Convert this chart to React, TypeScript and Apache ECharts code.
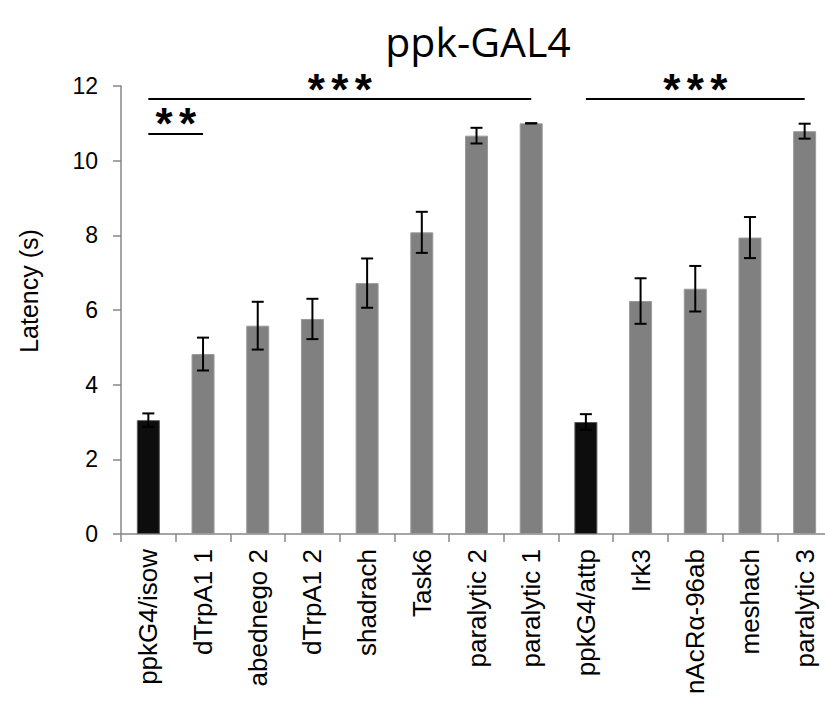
import { useEffect, useRef } from 'react';
import * as echarts from 'echarts';

// Genotypes along the x axis
const categories = [
  'ppkG4/isow',
  'dTrpA1 1',
  'abednego 2',
  'dTrpA1 2',
  'shadrach',
  'Task6',
  'paralytic 2',
  'paralytic 1',
  'ppkG4/attp',
  'Irk3',
  'nAcRα-96ab',
  'meshach',
  'paralytic 3',
];

// Mean latency (s) and standard error for each genotype
const latency = [3.05, 4.82, 5.58, 5.76, 6.72, 8.08, 10.67, 11.0, 3.0, 6.24, 6.57, 7.94, 10.79];
const sem = [0.18, 0.44, 0.64, 0.54, 0.66, 0.55, 0.21, 0.0, 0.21, 0.61, 0.61, 0.55, 0.2];

// Control genotypes drawn in black
const controls = ['ppkG4/isow', 'ppkG4/attp'];

// Y axis range
const yMin = 0;
const yMax = 12;
const yStep = 2;

// Significance brackets: first category, last category, height (s), stars
const bracketFrom = ['ppkG4/isow', 'ppkG4/attp', 'ppkG4/isow'];
const bracketTo = ['paralytic 1', 'paralytic 3', 'dTrpA1 1'];
const bracketLevel = [11.65, 11.65, 10.73];
const bracketStars = ['***', '***', '**'];

const AXIS_GREY = '#878787';
const FONT = '"Liberation Sans", Arial, sans-serif';

export default function App() {
  const ref = useRef<HTMLDivElement>(null);

  useEffect(() => {
    if (!ref.current) return;
    const chart = echarts.init(ref.current, undefined, { renderer: 'svg' });

    const option: any = {
      animation: false,
      backgroundColor: '#fff',
      grid: {
        left: 121,
        top: 86,
        width: 711,
        height: 448,
        containLabel: false,
        outerBoundsMode: 'none',
      },
      graphic: [
        {
          type: 'text',
          x: 478,
          y: 41,
          style: {
            text: 'ppk-GAL4',
            fontSize: 41,
            fontFamily: '"Open Sans", sans-serif',
            fill: '#000',
            textAlign: 'center',
            textVerticalAlign: 'middle',
            align: 'center',
            verticalAlign: 'middle',
          },
        },
        {
          type: 'text',
          x: 29,
          y: 291,
          rotation: Math.PI / 2,
          style: {
            text: 'Latency (s)',
            fontSize: 25,
            fontFamily: FONT,
            fill: '#000',
            textAlign: 'center',
            textVerticalAlign: 'middle',
            align: 'center',
            verticalAlign: 'middle',
          },
        },
      ],
      xAxis: {
        type: 'category',
        data: categories,
        boundaryGap: true,
        axisLine: { show: true, lineStyle: { color: AXIS_GREY, width: 1.5 } },
        axisTick: { show: true, length: 8, lineStyle: { color: AXIS_GREY, width: 1.5 } },
        axisLabel: {
          interval: 0,
          rotate: 90,
          margin: 15,
          color: '#000',
          fontSize: 26,
          fontFamily: FONT,
        },
      },
      yAxis: {
        type: 'value',
        min: yMin,
        max: yMax,
        interval: yStep,
        splitLine: { show: false },
        axisLine: { show: true, lineStyle: { color: AXIS_GREY, width: 1.5 } },
        axisTick: { show: true, length: 8, lineStyle: { color: AXIS_GREY, width: 1.5 } },
        axisLabel: { margin: 23, color: '#000', fontSize: 23, fontFamily: FONT },
      },
      series: [
        {
          type: 'bar',
          barWidth: 23,
          data: latency.map((v, i) => {
            const isControl = controls.includes(categories[i]);
            return {
              value: v,
              itemStyle: {
                color: isControl ? '#0d0d0d' : '#808080',
                borderColor: isControl ? '#5a5a5a' : '#9a9a9a',
                borderWidth: 1,
              },
            };
          }),
          markLine: {
            silent: true,
            symbol: ['none', 'none'],
            lineStyle: { color: '#000', width: 2.2, type: 'solid' },
            label: {
              show: true,
              position: 'middle',
              distance: -12,
              color: '#000',
              rich: {
                s: {
                  width: 23.5,
                  align: 'center',
                  fontSize: 44,
                  fontFamily: FONT,
                  fontWeight: 'bold',
                  color: '#000',
                },
              },
            },
            data: bracketFrom.map((from, i) => [
              {
                coord: [from, bracketLevel[i]],
                label: { formatter: bracketStars[i].replace(/\*/g, '{s|*}') },
              },
              { coord: [bracketTo[i], bracketLevel[i]] },
            ]),
          },
        },
        {
          type: 'custom',
          z: 5,
          data: latency.map((v, i) => [i, v, sem[i]]),
          encode: { x: 0, y: 1 },
          renderItem: (params: any, api: any) => {
            const x = api.value(0);
            const v = api.value(1);
            const e = api.value(2);
            const hi = api.coord([x, v + e]);
            const lo = api.coord([x, v - e]);
            const half = 6;
            const style = { stroke: '#000', lineWidth: 2 };
            return {
              type: 'group',
              children: [
                { type: 'line', shape: { x1: hi[0], y1: hi[1], x2: lo[0], y2: lo[1] }, style },
                { type: 'line', shape: { x1: hi[0] - half, y1: hi[1], x2: hi[0] + half, y2: hi[1] }, style },
                { type: 'line', shape: { x1: lo[0] - half, y1: lo[1], x2: lo[0] + half, y2: lo[1] }, style },
              ],
            };
          },
        },
      ],
    };

    chart.setOption(option);
    return () => chart.dispose();
  }, []);

  return (
    <div
      ref={ref}
      style={{ position: 'fixed', left: 0, top: 0, width: 825, height: 703, background: '#fff' }}
    />
  );
}
